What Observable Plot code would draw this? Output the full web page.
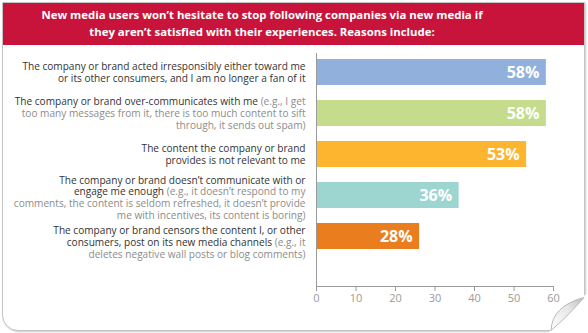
<!DOCTYPE html>
<html>
<head>
<meta charset="utf-8">
<script src="https://cdn.jsdelivr.net/npm/d3@7"></script>
<script src="https://cdn.jsdelivr.net/npm/@observablehq/plot@0.6"></script>
<style>
  html, body { margin: 0; padding: 0; background: #fff; }
  #wrap { position: relative; width: 588px; height: 333px; overflow: hidden; font-family: "Open Sans", sans-serif; }
  #card { position: absolute; left: 2px; top: 2px; width: 581px; height: 327px; border: 1px solid #c4c4c4; border-radius: 0 0 0 16px; box-shadow: 1px 1px 2px rgba(0,0,0,0.22); background: #fff; }
  #header { position: absolute; left: 3px; top: 3px; width: 581px; height: 42px; background: #c8143a; }
  #title { position: absolute; left: 0; top: 6px; width: 524px; text-align: center; color: #fff; font-weight: 700; font-size: 11.4px; line-height: 17px; }
  #chart { position: absolute; left: 0; top: 48px; }
  #curl { position: absolute; left: 540px; top: 288px; }
</style>
</head>
<body>
<div id="wrap">
  <div id="card"></div>
  <div id="header"></div>
  <div id="title"></div>
  <div id="chart"></div>
  <svg id="curl" width="48" height="45" viewBox="540 288 48 45">
    <defs>
      <linearGradient id="g" x1="0" y1="1" x2="1" y2="0">
        <stop offset="0" stop-color="#ffffff"/>
        <stop offset="0.6" stop-color="#e6e6e6"/>
        <stop offset="1" stop-color="#bcbcbc"/>
      </linearGradient>
    </defs>
    <path d="M586 294 L588 294 L588 333 L549 333 L549 332 Z" fill="#fff"/>
    <path d="M584 297 L588 297 L588 333 L551 333 Z" fill="#fff"/>
    <path d="M551 330.5 Q552 306 584 297.5 Q566 318 551 330.5 Z" fill="url(#g)" stroke="#b8b8b8" stroke-width="1"/>
  </svg>
</div>
<script>
const titleLines = [
  "New media users won\u2019t hesitate to stop following companies via new media if",
  "they aren\u2019t satisfied with their experiences. Reasons include:"
];
const categories = ["irresponsible", "overCommunicates", "notRelevant", "notEngaging", "censors"];
const labelTexts = [
  "The company or brand acted irresponsibly either toward me\nor its other consumers, and I am no longer a fan of it",
  "The company or brand over-communicates with me (e.g., I get\ntoo many messages from it, there is too much content to sift\nthrough, it sends out spam)",
  "The content the company or brand\nprovides is not relevant to me",
  "The company or brand doesn\u2019t communicate with or\nengage me enough (e.g., it doesn\u2019t respond to my\ncomments, the content is seldom refreshed, it doesn\u2019t provide\nme with incentives, its content is boring)",
  "The company or brand censors the content I, or other\nconsumers, post on its new media channels (e.g., it\ndeletes negative wall posts or blog comments)"
];
const values = [58.2, 58.2, 53.2, 36.1, 26.1];
const valueLabels = ["58%", "58%", "53%", "36%", "28%"];
const colors = ["#91b1dc", "#c4dc8c", "#fdb52f", "#9dd6d0", "#ea7e1f"];
const xTicks = [0, 10, 20, 30, 40, 50, 60];

document.getElementById("title").innerHTML = titleLines.join("<br>");

const rows = categories.map((c, i) => ({
  category: c, text: labelTexts[i], value: values[i], label: valueLabels[i], color: colors[i]
}));

const labelStyle = { x: 0, y: "category", text: "text", textAnchor: "end", dx: -11, lineAnchor: "middle", lineHeight: 1.17, fontSize: 10.1, fill: "#333333", fontWeight: 400 };

const chart = Plot.plot({
  width: 588,
  height: 260,
  marginLeft: 316,
  marginRight: 35,
  marginTop: 5,
  marginBottom: 22,
  style: { fontFamily: "Open Sans, sans-serif", background: "transparent" },
  x: { domain: [0, 60], axis: null, label: null },
  y: { domain: categories, paddingInner: 0.354, paddingOuter: 0.518, align: 0.14, axis: null, label: null },
  color: { type: "identity" },
  marks: [
    Plot.barX(rows, { x: "value", y: "category", fill: "color" }),
    Plot.text(rows, { x: "value", y: "category", text: "label", textAnchor: "end", dx: -7, fill: "#fff", fontWeight: "bold", fontSize: 16 }),
    Plot.text(rows.slice(0, 3), labelStyle),
    Plot.text(rows.slice(3, 4), { ...labelStyle, dy: 2 }),
    Plot.text(rows.slice(4), { ...labelStyle, dy: 6 }),
    Plot.ruleX([0], { stroke: "#9a9a9a" }),
    Plot.frame({ anchor: "bottom", stroke: "#9a9a9a" }),
    Plot.axisX({ ticks: xTicks, tickSize: 5, tickPadding: 3, stroke: "#9a9a9a", color: "#9a9a9a", fontSize: 11, label: null, tickFormat: d => String(d) })
  ]
});
document.getElementById("chart").appendChild(chart);

// colour the "(e.g. ...)" parts lighter, like the original
chart.querySelectorAll("text").forEach(t => {
  const spans = t.querySelectorAll("tspan");
  if (spans.length < 2) return;
  let light = false;
  spans.forEach(s => {
    const str = s.textContent;
    const k = str.indexOf("(e.g.");
    if (!light && k < 0) return;
    const dark = light ? "" : str.slice(0, k);
    const lite = light ? str : str.slice(k);
    light = true;
    s.textContent = "";
    if (dark) {
      const a = document.createElementNS("http://www.w3.org/2000/svg", "tspan");
      a.textContent = dark;
      s.appendChild(a);
    }
    const b = document.createElementNS("http://www.w3.org/2000/svg", "tspan");
    b.textContent = lite;
    b.setAttribute("fill", "#8c8c8c");
    b.setAttribute("font-weight", "400");
    s.appendChild(b);
  });
});
</script>
</body>
</html>
